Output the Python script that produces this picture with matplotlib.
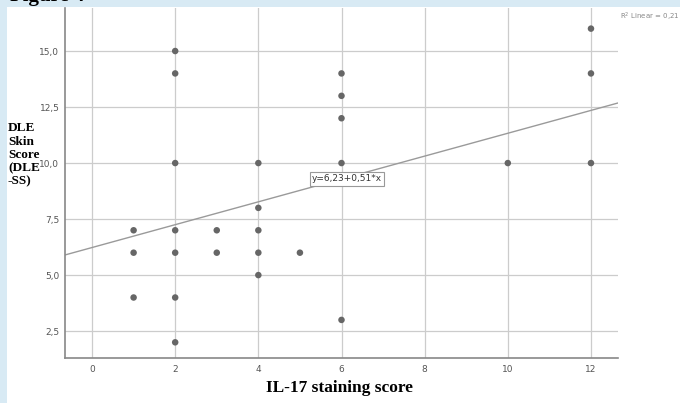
import numpy as np
import matplotlib.pyplot as plt
from matplotlib.patches import Rectangle

# IL-17 staining score vs DLE skin score
il17 = [1, 1, 1, 2, 2, 2, 2, 2, 2, 2, 3, 3, 4, 4, 4, 4, 4, 5, 6, 6, 6, 6, 6, 10, 12, 12, 12]
dless = [7, 6, 4, 15, 14, 10, 7, 6, 4, 2, 7, 6, 10, 8, 7, 6, 5, 6, 14, 13, 12, 10, 3, 10, 16, 14, 10]

intercept = 6.23
slope = 0.51
r2_label = "R$^2$ Linear = 0,21"
eq_label = "y=6,23+0,51*x"

xticks = [0, 2, 4, 6, 8, 10, 12]
yticks = [2.5, 5.0, 7.5, 10.0, 12.5, 15.0]

fig = plt.figure(figsize=(6.8, 4.03), dpi=100)
fig.patch.set_facecolor("#d8eaf4")
# white panel behind the chart
fig.patches.append(Rectangle((7 / 680, 0), 1, 1 - 7 / 403, transform=fig.transFigure,
                             facecolor="white", edgecolor="none", zorder=-5))

fig.text(10 / 680, 1 - 1 / 403, "Figure 4", fontsize=15, fontweight="bold",
         family="Liberation Serif", va="baseline", ha="left")

ax = fig.add_axes([65 / 680, 1 - 358 / 403, 553 / 680, 350 / 403])
ax.set_zorder(2)
ax.set_facecolor("none")
ax.set_xlim(-0.65, 12.65)
ax.set_ylim(1.3, 16.92)

ax.set_xticks(xticks)
ax.set_yticks(yticks)
ax.set_xticklabels([str(t) for t in xticks])
ax.set_yticklabels([f"{t:.1f}".replace(".", ",") for t in yticks])
ax.tick_params(length=0, labelsize=6.5, colors="#555555", pad=5)
ax.tick_params(axis="y", pad=4)
ax.grid(True, color="#cccccc", linewidth=0.9)
ax.set_axisbelow(True)

for s in ["top", "right"]:
    ax.spines[s].set_visible(False)
for s in ["left", "bottom"]:
    ax.spines[s].set_color("#888888")
    ax.spines[s].set_linewidth(1.2)

ax.scatter(il17, dless, s=22, color="#666666", zorder=3, edgecolors="none")

xl = np.array(ax.get_xlim())
ax.plot(xl, intercept + slope * xl, color="#9a9a9a", linewidth=1.0, zorder=2)

ax.text(6.13, 9.29, eq_label, fontsize=6.5, ha="center", va="center", color="#333333",
        bbox=dict(facecolor="white", edgecolor="#999999", linewidth=0.8, pad=1.5), zorder=4)

fig.text(620 / 680, 1 - 17 / 403, r2_label, fontsize=5, color="#888888", ha="left", va="center")

fig.text(8 / 680, 1 - 155 / 403, "DLE\nSkin\nScore\n(DLE\n-SS)", fontsize=9.5, fontweight="bold",
         family="Liberation Serif", ha="left", va="center", multialignment="left", linespacing=1.15)
fig.text(339 / 680, 1 - 388 / 403, "IL-17 staining score", fontsize=12.5, fontweight="bold",
         family="Liberation Serif", ha="center", va="center")

fig.savefig("out.png", dpi=100, facecolor=fig.get_facecolor())
